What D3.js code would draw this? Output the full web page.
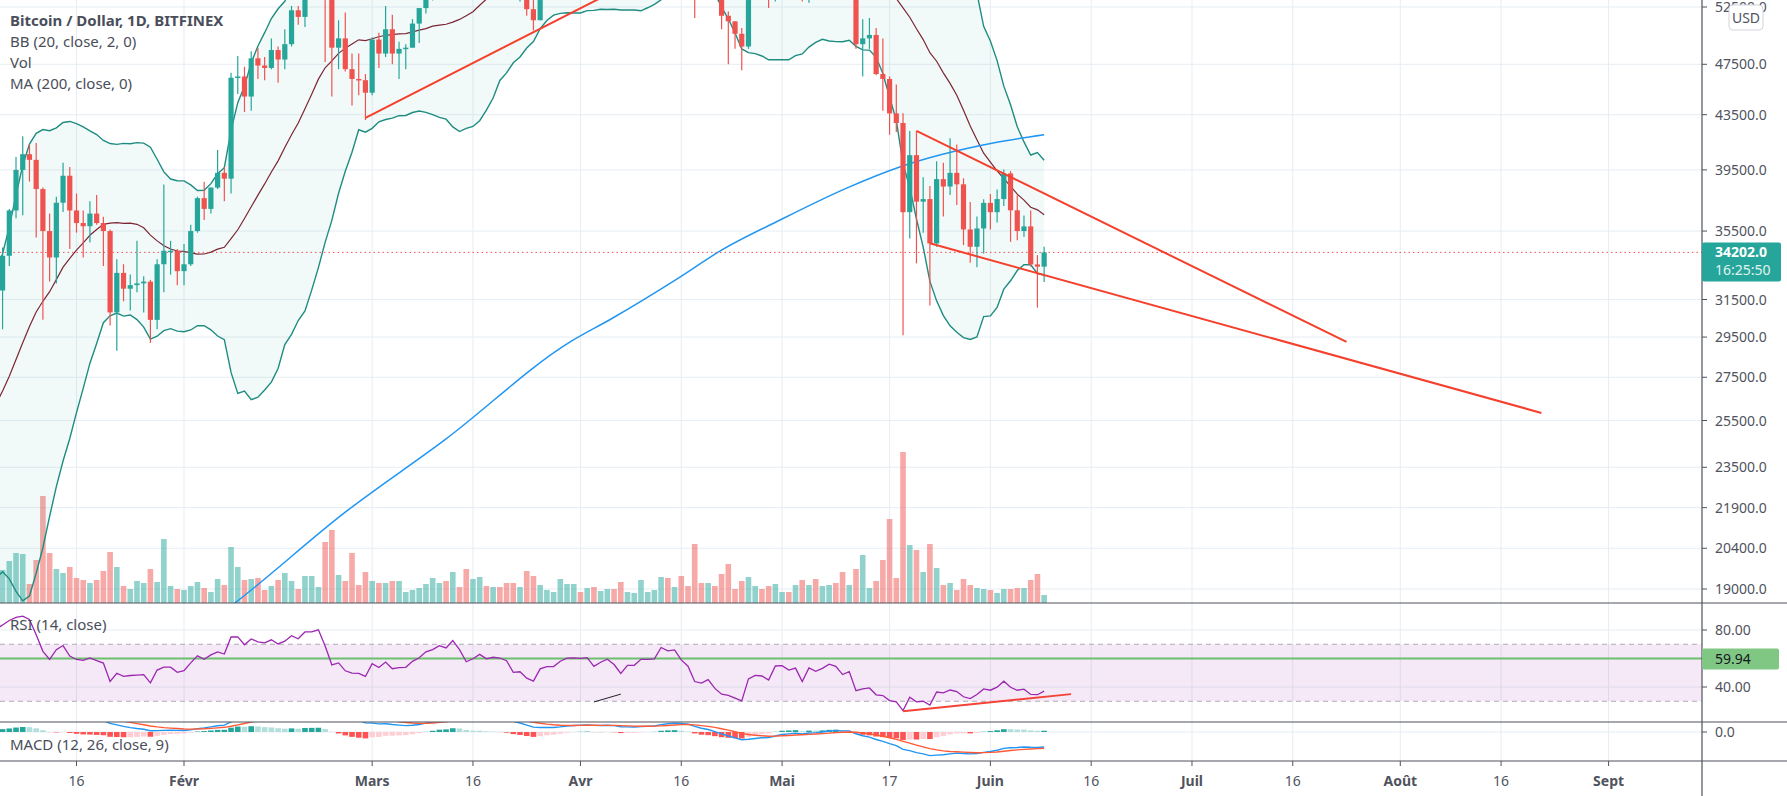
<!DOCTYPE html>
<html><head><meta charset="utf-8">
<script src="https://cdn.jsdelivr.net/npm/d3@7"></script>
<style>body{margin:0;background:#fff}svg{display:block;font-family:"Noto Sans","Open Sans",sans-serif}</style>
</head><body><svg id="c" width="1787" height="796"></svg>
<script>
// ---------- DATA ----------
const startDate = Date.UTC(2021,0,1);
const preCloses = [13750,13550,14030,14150,15590,15580,14830,15480,15330,15310,15700,16290,16330,15960,15960,16730,17660,17800,17820,18680,18720,18420,18370,19150,18730,17150,17140,17720,18180,19700,
18800,19200,19450,18700,19150,19350,19180,18320,18550,18250,18040,18800,19170,19270,19440,21350,22800,23100,23850,23480,22750,23820,23250,23730,24690,26440,26250,27040,27360,28880,28990];
const opens = [28990,29400,32200,33000,32000,34000,36800,39500,40600,40200,38200,35500,33900,37300,39100,36800,36000,35800,36600,36000,35500,30800,33000,32100,32300,32400,32500,30400,33500,34300,34300,
33100,33500,35500,37600,36900,38300,39300,38900,46400,46500,44900,48000,47400,47200,48700,47900,49200,52200,51600,55900,55900,57400,54100,48900,49700,47100,46300,46200,
45200,49600,48400,50500,48400,48800,48900,51000,52400,54900,55900,57800,57300,61200,59000,55600,56900,58900,57600,58300,58100,57400,54100,54300,52300,51300,55000,55800,55800,57600,58700,
58800,58700,58900,57100,58200,59100,58000,56000,58100,58100,59800,59800,59900,63500,62900,63200,61400,60100,56200,55700,56500,53800,51700,51200,50100,49000,54000,55000,54800,53600,
57700,57800,56600,57200,53200,57500,56400,57400,58900,58300,55800,56700,49200,49700,50000,46700,46300,43600,42870,36690,40530,37370,37540,34740,38870,38370,39300,38520,35600,34540,35660,
37290,36690,37540,39260,36810,35500,35790,33490,33360];
const highs = [29600,33300,34800,33600,34500,36900,40400,41900,41300,41400,38300,36600,37700,40000,39700,37900,36800,37400,37800,36400,35600,33800,33500,32900,34900,32800,32600,33800,38500,34900,34400,
34700,35900,37700,38700,38300,40900,39700,46800,48200,47300,48600,48900,48100,49700,49000,50500,52600,52600,56300,57600,58400,57500,54200,51300,52000,48400,48400,46700,
49800,50200,52600,51800,49400,49200,51400,52400,54900,57400,58100,58000,61800,61600,60600,56900,58900,60100,59400,59900,58600,58400,55800,57200,53200,55100,56600,56500,58400,59400,59800,
59500,60000,59800,58500,59300,59400,58700,58200,58900,61300,60700,61300,63800,64900,63800,63500,62500,61200,57500,57100,56800,55500,52100,51200,50600,54300,55400,56400,55200,58000,
58400,57900,58900,57200,57900,58300,58600,59400,59200,59500,56900,58000,51400,51500,50600,49700,46500,45850,43600,42270,42290,39000,38400,40100,40000,41740,41300,38930,37350,36420,37530,
37870,38180,39530,39420,37790,36470,36800,34040,34540];
const lows = [28700,29000,32000,28100,29900,33400,36300,36500,38700,35100,30400,32500,32400,36700,34400,35400,33900,34800,35900,33400,30100,28800,31400,30900,31900,30800,29200,29900,31900,32900,32300,
32300,33400,35400,36200,36600,38200,37400,37900,45100,43700,43800,46300,46200,47100,46000,47100,49000,50900,50700,53900,55500,47700,44900,47100,46900,44200,45000,43100,
45000,47200,48100,47500,46300,47100,48900,49300,51900,53100,54300,55000,56100,58900,54600,53300,54200,57000,56300,57800,55600,53700,53000,51700,50400,51300,53900,54700,54900,57000,56900,
57900,58500,56900,56500,56800,57600,55500,55800,57700,57900,59000,59400,59900,61300,62100,60000,59700,51500,54200,53500,53700,50500,47500,48800,47000,48800,53300,53900,52400,53000,
57000,56100,56500,53000,52900,55300,55400,56900,56200,53500,54500,48800,46500,48800,46600,43800,42000,42200,29600,35040,33550,35400,31170,34540,36420,37800,37160,34640,33590,33320,34140,
35600,36030,37080,34840,34940,35140,33360,31060,32480];
const closes = [29400,32200,33000,32000,34000,36800,39500,40600,40200,38200,35500,33900,37300,39100,36800,36000,35800,36600,36000,35500,30800,33000,32100,32300,32400,32500,30400,33500,34300,34300,33100,
33500,35500,37600,36900,38300,39300,38900,46400,46500,44900,48000,47400,47200,48700,47900,49200,52200,51600,55900,55900,57400,54100,48900,49700,47100,46300,46200,45200,
49600,48400,50500,48400,48800,48900,51000,52400,54900,55900,57800,57300,61200,59000,55600,56900,58900,57600,58300,58100,57400,54100,54300,52300,51300,55000,55800,55800,57600,58700,58800,
58700,58900,57100,58200,59100,58000,56000,58100,58100,59800,59800,59900,63500,62900,63200,61400,60100,56200,55700,56500,53800,51700,51200,50100,49000,54000,55000,54800,53600,57700,
57800,56600,57200,53200,57500,56400,57400,58900,58300,55800,56700,49200,49700,50000,46700,46300,43600,42870,36690,40530,37370,37540,34740,38870,38370,39300,38520,35600,34540,35660,37290,
36690,37540,39260,36810,35500,35790,33490,33360,34202];
const volumes = [30,40,40,45,
33,42,50,49,19,43,107,50,34,30, 36,25,23,20,23,32,51,36,17,14, 22,20,34,21,64,17,14,13,17,21, 15,11,24,18,56,36,23,24,25,13,
17,23,30,22,14,27,27,16,61,73, 28,22,50,18,31,22,20,20,22,22, 11,13,15,19,25,20,22,31,16,34, 24,26,17,16,16,20,20,
16,32,27,18,13,11,24,19,19,11, 15,16,12,14,14,21,11,10,23,11, 13,26,25,16,27,17,59,20,20,17, 29,39,14,22,26,17,14,17,19,11,
11,18,23,18,24,17,18,20,31,18, 34,48,15,22,43,84,25,151,58,53, 31,59,35,18,20,13,24,18,15,14, 13,10,14,14,15,15,23,29,8];
// MA(200) values: [day of year, price]
const ma200 = [[28,16800],[39.5,18530],[56,21730],[70.8,24650],[89.4,29240],[95.8,30500],[105.8,32760],[111.8,34290],[120.7,36190],[130.7,38280],[138.5,39700],[152.4,41400],[160,42000]];
// hand-drawn lines: [doy, value]
const trendLines = [[[59,43260],[97,54300]],[[141,42290],[205,29250]],[[143,34750],[234,25840]]];
const rsiLines = [[[[139,23],[164,35]],"#f44336",2],[[[93,29.5],[97,35]],"#222",1]];
const hLevel = 59.94;
const priceTicks = [52500,47500,43500,39500,35500,31500,29500,27500,25500,23500,21900,20400,19000];
const lastPrice = 34202, lastTime = "16:25:50";
const xTicks = [[16,"16"],[32,"Févr"],[60,"Mars"],[75,"16"],[91,"Avr"],[106,"16"],[121,"Mai"],[137,"17"],[152,"Juin"],[167,"16"],[182,"Juil"],[197,"16"],[213,"Août"],[228,"16"],[244,"Sept"]];
const legend = ["Bitcoin / Dollar, 1D, BITFINEX","BB (20, close, 2, 0)","Vol","MA (200, close, 0)"];

// ---------- SETUP ----------
const AX=1702, PB=603, RB=722, MB=761;
const svg=d3.select("#c");
const day = d => new Date(startDate + (d-1)*864e5);
const x=d3.scaleUtc().domain([day(1),day(244)]).range([-24.3,1608.6]);
const y=d3.scaleLog().domain([52500,19000]).range([7,589]);
const vy=d3.scaleLinear().domain([0,151]).range([PB,452]);
const ry=d3.scaleLinear().domain([40,80]).range([687,630]);
const my=d3.scaleLinear().domain([0,-4500]).range([732,753]);
const n=closes.length;
const bars=d3.range(n).map(i=>({d:day(i+1),o:opens[i],h:highs[i],l:lows[i],c:closes[i],v:volumes[i]}));
const all=preCloses.concat(closes), off=preCloses.length;

// indicators
const bb=bars.map((b,i)=>{const w=all.slice(off+i-19,off+i+1);const m=d3.mean(w);const s=Math.sqrt(d3.mean(w,v=>(v-m)*(v-m)));return {d:b.d,m,u:m+2*s,l:m-2*s};});
let ag=0,al=0;const rsiAll=[];
for(let i=1;i<all.length;i++){const ch=all[i]-all[i-1];const g=Math.max(ch,0),l=Math.max(-ch,0);
 if(i<=14){ag+=g/14;al+=l/14;} else {ag=(ag*13+g)/14;al=(al*13+l)/14;}
 rsiAll[i]=100-100/(1+ag/al);}
const rsi=bars.map((b,i)=>({d:b.d,v:rsiAll[off+i]}));
const ema=(arr,p)=>{const k=2/(p+1);const o=[arr[0]];for(let i=1;i<arr.length;i++)o[i]=arr[i]*k+o[i-1]*(1-k);return o;};
const e12=ema(all,12),e26=ema(all,26);const macdAll=all.map((v,i)=>e12[i]-e26[i]);const sigAll=ema(macdAll,9);
const macd=bars.map((b,i)=>({d:b.d,m:macdAll[off+i],s:sigAll[off+i],h:macdAll[off+i]-sigAll[off+i],hp:macdAll[off+i-1]-sigAll[off+i-1]}));

// clips
const defs=svg.append("defs");
[["cp",0,0,AX,PB],["cr",0,PB,AX,RB-PB],["cm",0,RB,AX,MB-RB]].forEach(([id,a,b,w,h])=>defs.append("clipPath").attr("id",id).append("rect").attr("x",a).attr("y",b).attr("width",w).attr("height",h));

// grid
const grid=svg.append("g").attr("stroke","#e6edf3").attr("stroke-width",1);
xTicks.forEach(([d])=>grid.append("line").attr("x1",x(day(d))).attr("x2",x(day(d))).attr("y1",0).attr("y2",MB));
priceTicks.forEach(p=>grid.append("line").attr("x1",0).attr("x2",AX).attr("y1",y(p)).attr("y2",y(p)));
[80,40].forEach(v=>grid.append("line").attr("x1",0).attr("x2",AX).attr("y1",ry(v)).attr("y2",ry(v)));
grid.append("line").attr("x1",0).attr("x2",AX).attr("y1",my(0)).attr("y2",my(0));

// price pane
const P=svg.append("g").attr("clip-path","url(#cp)");
P.selectAll(".vb").data(bars).join("rect").attr("x",d=>x(d.d)-2.8).attr("width",5.6).attr("y",d=>vy(d.v)).attr("height",d=>PB-vy(d.v))
 .attr("fill",d=>d.c>=d.o?"rgba(38,166,154,0.5)":"rgba(239,83,80,0.5)");
P.append("path").datum(bb).attr("fill","rgba(38,166,154,0.06)").attr("d",d3.area().x(d=>x(d.d)).y0(d=>y(d.l)).y1(d=>y(d.u)));
P.append("path").datum(bb).attr("fill","none").attr("stroke","#1e8c80").attr("stroke-width",1.4).attr("d",d3.line().x(d=>x(d.d)).y(d=>y(d.u)));
P.append("path").datum(bb).attr("fill","none").attr("stroke","#1e8c80").attr("stroke-width",1.4).attr("d",d3.line().x(d=>x(d.d)).y(d=>y(d.l)));
P.append("path").datum(bb).attr("fill","none").attr("stroke","#7b2634").attr("stroke-width",1.2).attr("d",d3.line().x(d=>x(d.d)).y(d=>y(d.m)));
P.append("path").datum(ma200).attr("fill","none").attr("stroke","#2196f3").attr("stroke-width",1.5).attr("d",d3.line().curve(d3.curveMonotoneX).x(d=>x(day(d[0]))).y(d=>y(d[1])));
P.append("line").attr("x1",0).attr("x2",AX).attr("y1",y(lastPrice)).attr("y2",y(lastPrice)).attr("stroke","#ef5350").attr("stroke-dasharray","1.5,3");
const cg=P.selectAll(".cd").data(bars).join("g").attr("fill",d=>d.c>=d.o?"#26a69a":"#ef5350").attr("stroke",d=>d.c>=d.o?"#26a69a":"#ef5350");
cg.append("line").attr("x1",d=>x(d.d)).attr("x2",d=>x(d.d)).attr("y1",d=>y(d.h)).attr("y2",d=>y(d.l)).attr("stroke-width",1.2);
cg.append("rect").attr("stroke","none").attr("x",d=>x(d.d)-2.6).attr("width",5.2).attr("y",d=>y(Math.max(d.o,d.c))).attr("height",d=>Math.max(1.5,Math.abs(y(d.o)-y(d.c))));
trendLines.forEach(l=>P.append("line").attr("x1",x(day(l[0][0]))).attr("y1",y(l[0][1])).attr("x2",x(day(l[1][0]))).attr("y2",y(l[1][1])).attr("stroke","#f4402c").attr("stroke-width",2));

// RSI pane
const R=svg.append("g").attr("clip-path","url(#cr)");
R.append("rect").attr("x",0).attr("width",AX).attr("y",ry(70)).attr("height",ry(30)-ry(70)).attr("fill","rgba(156,39,176,0.1)");
[70,30].forEach(v=>R.append("line").attr("x1",0).attr("x2",AX).attr("y1",ry(v)).attr("y2",ry(v)).attr("stroke","#b0a9b8").attr("stroke-dasharray","5,4"));
R.append("line").attr("x1",0).attr("x2",AX).attr("y1",ry(hLevel)).attr("y2",ry(hLevel)).attr("stroke","#6cbf6e").attr("stroke-width",2);
R.append("path").datum(rsi).attr("fill","none").attr("stroke","#9c27b0").attr("stroke-width",1.3).attr("d",d3.line().x(d=>x(d.d)).y(d=>ry(d.v)));
rsiLines.forEach(([l,c,w])=>R.append("line").attr("x1",x(day(l[0][0]))).attr("y1",ry(l[0][1])).attr("x2",x(day(l[1][0]))).attr("y2",ry(l[1][1])).attr("stroke",c).attr("stroke-width",w));

// MACD pane
const M=svg.append("g").attr("clip-path","url(#cm)");
M.selectAll(".hb").data(macd).join("rect").attr("x",d=>x(d.d)-2.8).attr("width",5.6).attr("y",d=>Math.min(my(d.h),my(0))).attr("height",d=>Math.abs(my(d.h)-my(0)))
 .attr("fill",d=>d.h>=0?(d.h>=d.hp?"#26a69a":"#b2dfdb"):(d.h<d.hp?"#ff5252":"#ffcdd2"));
M.append("path").datum(macd).attr("fill","none").attr("stroke","#2196f3").attr("stroke-width",1.4).attr("d",d3.line().x(d=>x(d.d)).y(d=>my(d.m)));
M.append("path").datum(macd).attr("fill","none").attr("stroke","#ff5a36").attr("stroke-width",1.4).attr("d",d3.line().x(d=>x(d.d)).y(d=>my(d.s)));

// pane borders & axis
const bd=svg.append("g").attr("stroke","#50535e").attr("stroke-width",1.2);
[PB,RB,MB].forEach(v=>bd.append("line").attr("x1",0).attr("x2",1787).attr("y1",v).attr("y2",v));
bd.append("line").attr("x1",AX).attr("x2",AX).attr("y1",0).attr("y2",796);
const tc="#50535e";
const ax=svg.append("g").attr("font-size",14).attr("fill",tc);
const tick=(yy,t)=>{svg.append("line").attr("x1",AX).attr("x2",AX+5).attr("y1",yy).attr("y2",yy).attr("stroke",tc);ax.append("text").attr("x",AX+13).attr("y",yy+5).text(t);};
priceTicks.forEach(p=>tick(y(p),d3.format(".1f")(p)));
tick(ry(80),"80.00");tick(ry(40),"40.00");tick(my(0),"0.0");
// USD badge
svg.append("rect").attr("x",1729).attr("y",5).attr("width",34).attr("height",25).attr("rx",4).attr("fill","#fff").attr("stroke","#d1d4dc");
svg.append("text").attr("x",1746).attr("y",23).attr("text-anchor","middle").attr("font-size",14).attr("fill",tc).text("USD");
// last price label
svg.append("rect").attr("x",AX).attr("y",y(lastPrice)-10).attr("width",79).attr("height",39).attr("rx",2).attr("fill","#26a69a");
svg.append("text").attr("x",AX+13).attr("y",y(lastPrice)+5).attr("font-size",14).attr("font-weight","bold").attr("fill","#fff").text(d3.format(".1f")(lastPrice));
svg.append("text").attr("x",AX+13).attr("y",y(lastPrice)+23).attr("font-size",14).attr("fill","#e0f2f1").text(lastTime);
svg.append("rect").attr("x",AX).attr("y",ry(hLevel)-10).attr("width",77).attr("height",21).attr("rx",2).attr("fill","#81c784");
svg.append("text").attr("x",AX+13).attr("y",ry(hLevel)+5).attr("font-size",14).attr("fill","#131722").text(d3.format(".2f")(hLevel));
// x labels
xTicks.forEach(([d,t])=>{const xx=x(day(d));svg.append("line").attr("x1",xx).attr("x2",xx).attr("y1",MB).attr("y2",MB+5).attr("stroke",tc);
 svg.append("text").attr("x",xx).attr("y",786).attr("text-anchor","middle").attr("font-size",14).attr("fill",tc).attr("font-weight",isNaN(+t)?"bold":"normal").text(t);});
// legends
legend.forEach((t,i)=>svg.append("text").attr("x",10).attr("y",26+i*21).attr("font-size",15).attr("fill","#4a4e5a").attr("font-weight",i==0?"bold":"normal").text(t));
svg.append("text").attr("x",10).attr("y",630).attr("font-size",15).attr("fill","#4a4e5a").text("RSI (14, close)");
svg.append("text").attr("x",10).attr("y",750).attr("font-size",15).attr("fill","#4a4e5a").text("MACD (12, 26, close, 9)");
</script></body></html>
